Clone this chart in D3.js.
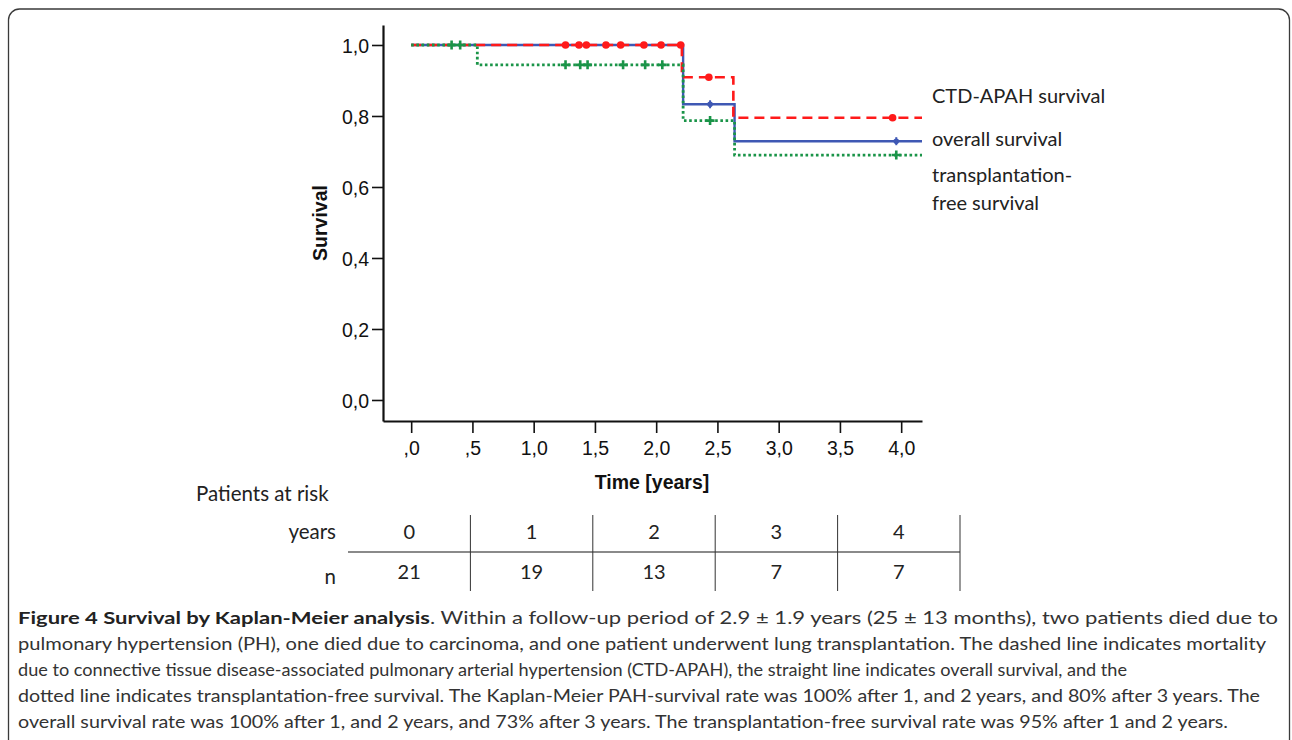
<!DOCTYPE html>
<html>
<head>
<meta charset="utf-8">
<script src="https://cdn.jsdelivr.net/npm/d3@7"></script>
<style>
  body { margin: 0; background: #fff; }
  svg { display: block; }
</style>
</head>
<body>
<svg id="km"></svg>
<script>
// survival curves (time in years)
var ctdTimes = [0, 2.21, 2.63, 4.17];
var ctdSurv = [1, 0.909, 0.795, 0.795];
var ctdCensor = [1.26, 1.37, 1.43, 1.59, 1.71, 1.90, 2.04, 2.20, 2.43, 3.93];

var allTimes = [0, 2.22, 2.64, 4.17];
var allSurv = [1, 0.833, 0.729, 0.729];
var allCensor = [2.44, 3.96];

var txTimes = [0, 0.54, 2.22, 2.64, 4.17];
var txSurv = [1, 0.944, 0.787, 0.69, 0.69];
var txCensor = [0.33, 0.40, 1.26, 1.38, 1.44, 1.73, 1.91, 2.05, 2.44, 3.96];

var xTicks = [0, 0.5, 1, 1.5, 2, 2.5, 3, 3.5, 4];
var yTicks = [0, 0.2, 0.4, 0.6, 0.8, 1.0];

var riskYears = ["0", "1", "2", "3", "4"];
var riskN = ["21", "19", "13", "7", "7"];

var legendLines = [
    {text: "CTD-APAH survival", y: 103},
    {text: "overall survival", y: 146},
    {text: "transplantation-", y: 182},
    {text: "free survival", y: 210}
];

var captionBold = "Figure 4 Survival by Kaplan-Meier analysis";
var captionLines = [
    ". Within a follow-up period of 2.9 \u00b1 1.9 years (25 \u00b1 13 months), two patients died due to",
    "pulmonary hypertension (PH), one died due to carcinoma, and one patient underwent lung transplantation. The dashed line indicates mortality",
    "due to connective tissue disease-associated pulmonary arterial hypertension (CTD-APAH), the straight line indicates overall survival, and the",
    "dotted line indicates transplantation-free survival. The Kaplan-Meier PAH-survival rate was 100% after 1, and 2 years, and 80% after 3 years. The",
    "overall survival rate was 100% after 1, and 2 years, and 73% after 3 years. The transplantation-free survival rate was 95% after 1 and 2 years."
];
var captionWidths = [1260, 1248, 1109, 1242, 1210];

var svgWidth = 1292, svgHeight = 740;
var svg = d3.select("#km")
    .attr("width", svgWidth)
    .attr("height", svgHeight);

// rounded frame round the whole figure
svg.append("rect")
    .attr("x", 8.5)
    .attr("y", 9)
    .attr("width", 1281)
    .attr("height", 760)
    .attr("rx", 11)
    .attr("fill", "none")
    .attr("stroke", "#3a3a3a")
    .attr("stroke-width", 1.3);

var x = d3.scaleLinear().domain([-0.23, 4.17]).range([383, 922]);
var y = d3.scaleLinear().domain([-0.0592, 1.0563]).range([421, 25]);

var axisFont = "'Liberation Sans', Arial, sans-serif";
var bodyFont = "Lato, 'Open Sans', sans-serif";

function fmt(v) {
    return d3.format(".1f")(v).replace(".", ",");
}

// y axis
var yAxis = svg.append("g")
    .attr("transform", "translate(" + x.range()[0] + ",0)")
    .call(d3.axisLeft(y).tickValues(yTicks).tickSize(11).tickSizeOuter(0)
        .tickFormat(function(d) { return fmt(d); }));
yAxis.select(".domain").attr("stroke", "#111").attr("stroke-width", 2.2);
yAxis.selectAll(".tick line").attr("stroke", "#111").attr("stroke-width", 1.6);
yAxis.selectAll(".tick text")
    .attr("font-family", axisFont)
    .attr("font-size", 19.5)
    .attr("fill", "#111")
    .attr("x", -14)
    .attr("dy", "0.36em");

// x axis
var xAxis = svg.append("g")
    .attr("transform", "translate(0," + y.range()[0] + ")")
    .call(d3.axisBottom(x).tickValues(xTicks).tickSize(12).tickSizeOuter(0)
        .tickFormat(function(d) {
            var s = fmt(d);
            return s.charAt(0) == "0" ? s.substring(1) : s;
        }));
xAxis.select(".domain").attr("stroke", "#111").attr("stroke-width", 2.2);
xAxis.selectAll(".tick line").attr("stroke", "#111").attr("stroke-width", 1.6);
xAxis.selectAll(".tick text")
    .attr("font-family", axisFont)
    .attr("font-size", 19.5)
    .attr("fill", "#111")
    .attr("y", 20)
    .attr("dy", "0.71em");

svg.append("text")
    .text("Time [years]")
    .attr("x", 652)
    .attr("y", 489)
    .attr("text-anchor", "middle")
    .attr("font-family", axisFont)
    .attr("font-weight", "bold")
    .attr("font-size", 19.5)
    .attr("fill", "#111");

svg.append("text")
    .text("Survival")
    .attr("transform", "translate(327,223) rotate(-90)")
    .attr("text-anchor", "middle")
    .attr("font-family", axisFont)
    .attr("font-weight", "bold")
    .attr("font-size", 19.5)
    .attr("fill", "#111");

// step path from times and survival values
function stepPath(times, surv) {
    var pts = times.map(function(t, i) { return [t, surv[i]]; });
    return d3.line()
        .x(function(d) { return x(d[0]); })
        .y(function(d) { return y(d[1]); })
        .curve(d3.curveStepAfter)(pts);
}

// survival at a given time (for placing censor marks)
function survAt(times, surv, t) {
    var s = surv[0];
    times.forEach(function(tt, i) {
        if (tt <= t) { s = surv[i]; }
    });
    return s;
}

var blue = "#3f58b4", red = "#ff1a1a", green = "#1a9448";

// overall survival (solid)
svg.append("path")
    .attr("d", stepPath(allTimes, allSurv))
    .attr("fill", "none")
    .attr("stroke", blue)
    .attr("stroke-width", 2.4);

svg.append("g")
    .selectAll("g")
    .data(allCensor)
    .enter()
    .append("g")
    .attr("transform", function(d) {
        return "translate(" + x(d) + "," + y(survAt(allTimes, allSurv, d)) + ")";
    })
    .each(function() {
        d3.select(this).append("circle").attr("r", 2.8).attr("fill", blue);
        d3.select(this).append("line")
            .attr("y1", -4).attr("y2", 4)
            .attr("stroke", blue).attr("stroke-width", 2);
    });

// CTD-APAH (dashed)
svg.append("path")
    .attr("d", stepPath(ctdTimes, ctdSurv))
    .attr("fill", "none")
    .attr("stroke", red)
    .attr("stroke-width", 2.6)
    .attr("stroke-dasharray", "10,6");

svg.append("g")
    .selectAll("circle")
    .data(ctdCensor)
    .enter()
    .append("circle")
    .attr("cx", function(d) { return x(d); })
    .attr("cy", function(d) { return y(survAt(ctdTimes, ctdSurv, d)); })
    .attr("r", 3.8)
    .attr("fill", red);

// transplantation-free (dotted)
svg.append("path")
    .attr("d", stepPath(txTimes, txSurv))
    .attr("fill", "none")
    .attr("stroke", green)
    .attr("stroke-width", 2.8)
    .attr("stroke-dasharray", "2.6,2.6");

svg.append("g")
    .selectAll("path")
    .data(txCensor)
    .enter()
    .append("path")
    .attr("d", "M-4.5,0H4.5M0,-4.5V4.5")
    .attr("transform", function(d) {
        return "translate(" + x(d) + "," + y(survAt(txTimes, txSurv, d)) + ")";
    })
    .attr("stroke", green)
    .attr("stroke-width", 2.6);

// legend labels
svg.append("g")
    .selectAll("text")
    .data(legendLines)
    .enter()
    .append("text")
    .text(function(d) { return d.text; })
    .attr("x", 932)
    .attr("y", function(d) { return d.y; })
    .attr("font-family", bodyFont)
    .attr("font-size", 20)
    .attr("fill", "#222");

// patients at risk table
var col = d3.scaleBand().domain(riskYears).range([348, 960]);

svg.append("text")
    .text("Patients at risk")
    .attr("x", 196)
    .attr("y", 501)
    .attr("font-family", bodyFont)
    .attr("font-size", 20.5)
    .attr("fill", "#222");

svg.append("text")
    .text("years")
    .attr("x", 336)
    .attr("y", 539)
    .attr("text-anchor", "end")
    .attr("font-family", bodyFont)
    .attr("font-size", 20.5)
    .attr("fill", "#222");

svg.append("text")
    .text("n")
    .attr("x", 336)
    .attr("y", 584)
    .attr("text-anchor", "end")
    .attr("font-family", bodyFont)
    .attr("font-size", 20.5)
    .attr("fill", "#222");

svg.append("line")
    .attr("x1", col.range()[0])
    .attr("x2", col.range()[1])
    .attr("y1", 552)
    .attr("y2", 552)
    .attr("stroke", "#8a8a8a")
    .attr("stroke-width", 2.2);

svg.append("g")
    .selectAll("line")
    .data(riskYears.slice(1).concat(["end"]))
    .enter()
    .append("line")
    .attr("x1", function(d, i) { return col.range()[0] + col.bandwidth() * (i + 1); })
    .attr("x2", function(d, i) { return col.range()[0] + col.bandwidth() * (i + 1); })
    .attr("y1", 515)
    .attr("y2", 591)
    .attr("stroke", "#333")
    .attr("stroke-width", 1);

svg.append("g")
    .selectAll("text")
    .data(riskYears)
    .enter()
    .append("text")
    .text(function(d) { return d; })
    .attr("x", function(d) { return col(d) + col.bandwidth() / 2; })
    .attr("y", 539)
    .attr("text-anchor", "middle")
    .attr("font-family", bodyFont)
    .attr("font-size", 20)
    .attr("fill", "#222");

svg.append("g")
    .selectAll("text")
    .data(riskN)
    .enter()
    .append("text")
    .text(function(d) { return d; })
    .attr("x", function(d, i) { return col(riskYears[i]) + col.bandwidth() / 2; })
    .attr("y", 579)
    .attr("text-anchor", "middle")
    .attr("font-family", bodyFont)
    .attr("font-size", 20)
    .attr("fill", "#222");

// caption
var caption = svg.append("g");
captionLines.forEach(function(line, i) {
    var t = caption.append("text")
        .attr("x", 18)
        .attr("y", 624 + i * 26)
        .attr("font-family", bodyFont)
        .attr("font-size", 17.5)
        .attr("fill", "#333")
        .attr("textLength", captionWidths[i])
        .attr("lengthAdjust", "spacingAndGlyphs");
    if (i == 0) {
        t.append("tspan").attr("font-weight", "bold").attr("fill", "#222").text(captionBold);
    }
    t.append("tspan").text(line);
});
</script>
</body>
</html>
